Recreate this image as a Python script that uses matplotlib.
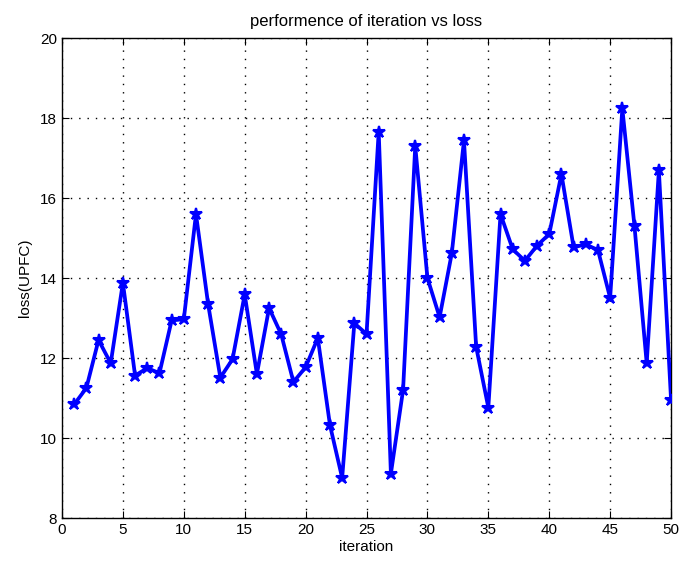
import matplotlib
matplotlib.use("Agg")
import matplotlib.pyplot as plt

iteration = list(range(1, 51))
loss = [
    10.84, 11.25, 12.45, 11.87, 13.88, 11.56, 11.75, 11.62, 12.94, 12.97,
    15.60, 13.34, 11.51, 11.97, 13.59, 11.60, 13.25, 12.59, 11.40, 11.77,
    12.50, 10.32, 9.00, 12.87, 12.60, 17.66, 9.11, 11.20, 17.30, 14.00,
    13.02, 14.62, 17.44, 12.28, 10.76, 15.60, 14.72, 14.43, 14.81, 15.10,
    16.60, 14.77, 14.84, 14.70, 13.50, 18.24, 15.29, 11.87, 16.69, 10.95,
]

plt.rcParams["font.family"] = ["Liberation Sans", "DejaVu Sans"]

fig = plt.figure(figsize=(6.79, 5.68), dpi=100)
ax = fig.add_axes([0.0913, 0.088, 0.897, 0.845])

ax.plot(iteration, loss, color="#0000FF", lw=2.7, marker="*",
        markersize=9, markeredgewidth=1.5, zorder=3)

ax.set_xlim(0, 50)
ax.set_ylim(8, 20)
ax.set_xticks(range(0, 51, 5))
ax.set_yticks(range(8, 21, 2))
ax.grid(True, color="black", linestyle=(0, (1, 5)), lw=1.0)
ax.tick_params(direction="in", labelsize=11, top=True, right=True, length=5)
for s in ax.spines.values():
    s.set_linewidth(1.0)

ax.set_xlabel("iteration", fontsize=11, labelpad=2)
ax.set_ylabel("loss(UPFC)", fontsize=11, labelpad=6)
ax.set_title("performence of iteration vs loss", fontsize=12, pad=9)

fig.savefig("out.png", dpi=100)
